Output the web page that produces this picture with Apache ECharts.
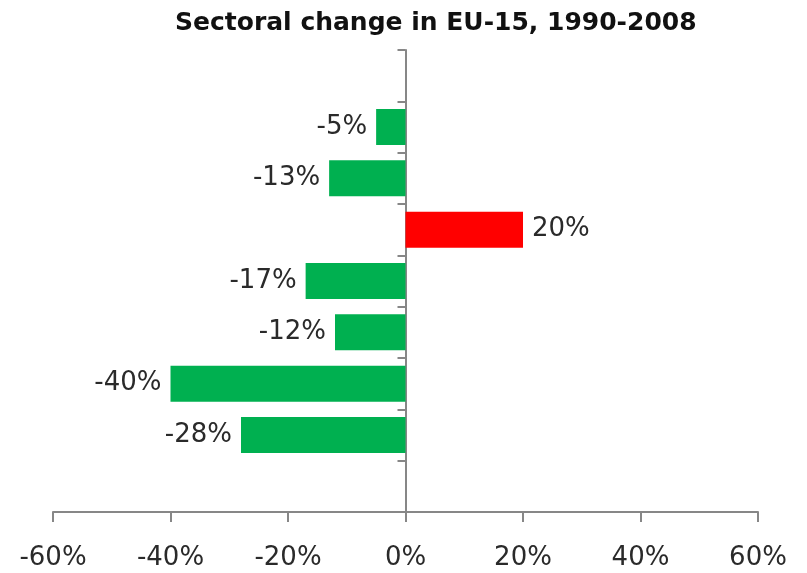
<!DOCTYPE html>
<html>
<head>
<meta charset="utf-8">
<script src="https://cdn.jsdelivr.net/npm/echarts@6/dist/echarts.min.js"></script>
<style>
    html, body { margin: 0; padding: 0; background: #fff; }
    #chart { width: 807px; height: 573px; }
</style>
</head>
<body>
<div id="chart"></div>
<script>
// sectors are unnamed in the picture; first and last slots are empty
const sectors = ["", "", "", "", "", "", "", "", ""];
const changes = [null, -5, -13, 20, -17, -12, -40, -28, null];
const xTicks = { min: -60, max: 60, step: 20 };

const GREEN = "#00b050";
const RED = "#ff0000";
const AXIS = "#878787";

function buildData() {
    return changes.map((v) => {
        if (v === null) {
            return { value: null };
        }
        return {
            value: v,
            itemStyle: { color: v < 0 ? GREEN : RED },
            label: { position: v < 0 ? "left" : "right" },
        };
    });
}

const chart = echarts.init(document.getElementById("chart"));
chart.setOption({
    animation: false,
    title: {
        text: "Sectoral change in EU-15, 1990-2008",
        left: 170,
        top: 6,
        textStyle: {
            fontFamily: "DejaVu Sans",
            fontWeight: "bold",
            fontSize: 25,
            color: "#111",
        },
    },
    grid: { left: 53, right: 49, top: 50, bottom: 61, containLabel: false },
    xAxis: {
        type: "value",
        min: xTicks.min,
        max: xTicks.max,
        interval: xTicks.step,
        splitLine: { show: false },
        axisLine: { show: true, lineStyle: { color: AXIS, width: 2 } },
        axisTick: { show: true, length: 10, lineStyle: { color: AXIS, width: 2 } },
        axisLabel: {
            formatter: "{value}%",
            margin: 33,
            fontFamily: "DejaVu Sans",
            fontSize: 26,
            color: "#2a2a2a",
        },
    },
    yAxis: {
        type: "category",
        inverse: true,
        data: sectors,
        axisLine: { show: true, onZero: true, lineStyle: { color: AXIS, width: 2 } },
        axisTick: { show: true, length: 8, lineStyle: { color: AXIS, width: 2 } },
        axisLabel: { show: false },
        splitLine: { show: false },
    },
    series: [
        {
            type: "bar",
            data: buildData(),
            barCategoryGap: "30%",
            label: {
                show: true,
                formatter: (p) => p.value + "%",
                distance: 9,
                fontFamily: "DejaVu Sans",
                fontSize: 26,
                color: "#2a2a2a",
            },
        },
    ],
});
</script>
</body>
</html>
